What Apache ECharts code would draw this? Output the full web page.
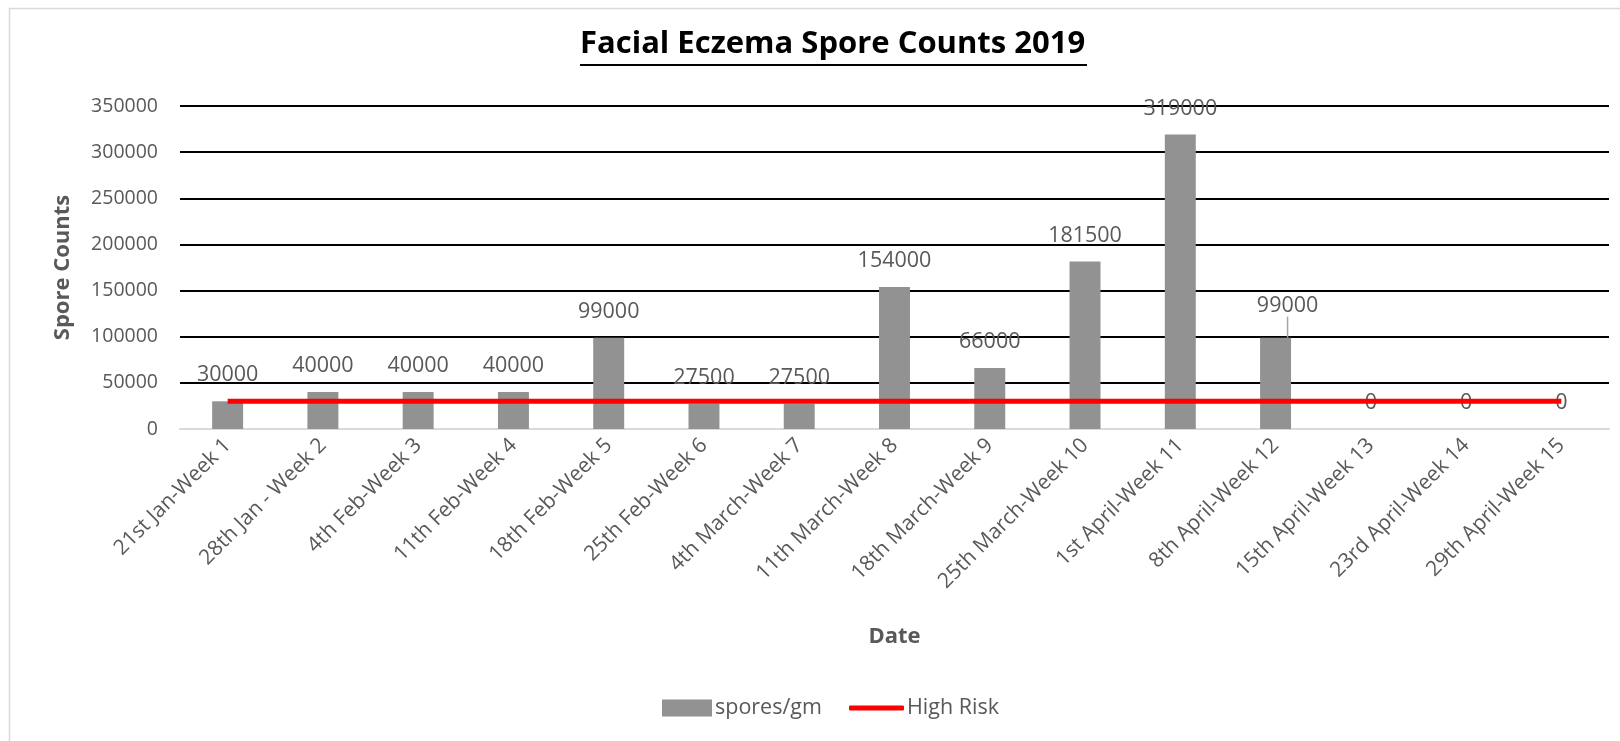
<!DOCTYPE html>
<html>
<head>
<meta charset="utf-8">
<script src="https://cdn.jsdelivr.net/npm/echarts@6/dist/echarts.min.js"></script>
<style>html,body{margin:0;padding:0;background:#fff}#c{width:1620px;height:741px}</style>
</head>
<body>
<div id="c"></div>
<script>
const categories = ["21st Jan-Week 1","28th Jan - Week 2","4th Feb-Week 3","11th Feb-Week 4","18th Feb-Week 5","25th Feb-Week 6","4th March-Week 7","11th March-Week 8","18th March-Week 9","25th March-Week 10","1st April-Week 11","8th April-Week 12","15th April-Week 13","23rd April-Week 14","29th April-Week 15"];
const sporesPerGm = [30000,40000,40000,40000,99000,27500,27500,154000,66000,181500,319000,99000,0,0,0];
const highRisk = [30000,30000,30000,30000,30000,30000,30000,30000,30000,30000,30000,30000,30000,30000,30000];
const yTicks = {min:0, max:350000, interval:50000};
const movedLabelIndex = 11;

const FONT = '"Open Sans", sans-serif';
const GREY = '#595959';
const chart = echarts.init(document.getElementById('c'), null, {renderer:'canvas'});

const barData = sporesPerGm.map((v, i) => i === movedLabelIndex
  ? {value:v, labelLine:{show:true, lineStyle:{color:'#a6a6a6', width:1.5}}}
  : {value:v});

chart.setOption({
  animation:false,
  backgroundColor:'#fff',
  title:{
    text:'Facial Eczema Spore Counts 2019',
    left:580, top:29, padding:0,
    textStyle:{fontFamily:FONT, fontSize:31, fontWeight:'bold', color:'#000'}
  },
  graphic:[
    {type:'rect', shape:{x:9.5,y:8.5,width:1640,height:760}, style:{fill:'none', stroke:'#d9d9d9', lineWidth:1.5}, silent:true},
    {type:'line', shape:{x1:580,y1:65,x2:1087,y2:65}, style:{stroke:'#000', lineWidth:2}}
  ],
  legend:[
    {
      left:662, top:697, padding:0, itemWidth:50, itemHeight:17,
      textStyle:{fontFamily:FONT, fontSize:21.5, color:GREY, padding:[0,0,0,-2]},
      data:[{name:'spores/gm', icon:'rect'}]
    },
    {
      left:849, top:697, padding:0, itemWidth:55, itemHeight:5,
      textStyle:{fontFamily:FONT, fontSize:21.5, color:GREY, padding:[0,0,0,-2]},
      data:[{name:'High Risk', icon:'roundRect'}]
    }
  ],
  grid:{left:180, right:11, top:106, bottom:312},
  xAxis:{
    type:'category', data:categories,
    name:'Date', nameLocation:'middle', nameGap:197,
    nameTextStyle:{fontFamily:FONT, fontSize:22, fontWeight:'bold', color:GREY},
    axisLine:{lineStyle:{color:'#d9d9d9', width:2}},
    axisTick:{show:false},
    axisLabel:{rotate:45, margin:13, interval:0, fontFamily:FONT, fontSize:21, color:GREY}
  },
  yAxis:{
    type:'value', min:yTicks.min, max:yTicks.max, interval:yTicks.interval,
    name:'Spore Counts', nameLocation:'middle', nameGap:106, nameRotate:90,
    nameTextStyle:{fontFamily:FONT, fontSize:22, fontWeight:'bold', color:GREY},
    axisLine:{show:false}, axisTick:{show:false},
    axisLabel:{margin:22, fontFamily:FONT, fontSize:19.5, color:GREY, formatter:v => String(v)},
    splitLine:{lineStyle:{color:'#000', width:2}}
  },
  series:[
    {
      name:'spores/gm', type:'bar', data:barData, barWidth:'32.5%',
      itemStyle:{color:'#929292'},
      label:{show:true, position:'top', distance:15, fontFamily:FONT, fontSize:21.5, color:GREY},
      labelLayout:function(p){ return p.dataIndex===movedLabelIndex ? {dx:12, dy:-6} : {}; },
      z:2
    },
    {
      name:'High Risk', type:'line', data:highRisk, symbol:'none',
      lineStyle:{color:'#ff0000', width:5}, itemStyle:{color:'#ff0000'}, z:3
    }
  ]
});
</script>
</body>
</html>
